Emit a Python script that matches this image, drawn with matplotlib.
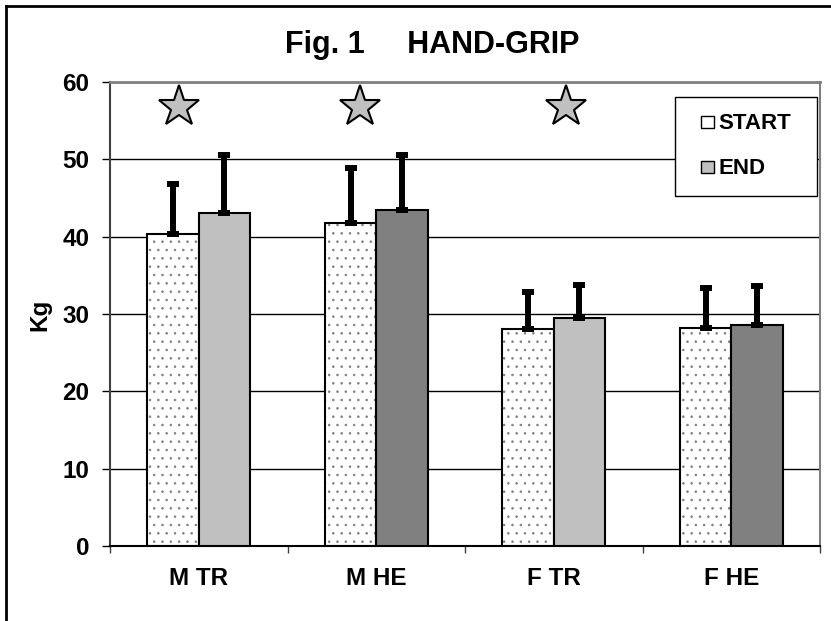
import matplotlib
matplotlib.use("Agg")
import matplotlib.pyplot as plt
from matplotlib.patches import Patch, Rectangle
from matplotlib.lines import Line2D
import numpy as np

# Hand-grip strength (Kg), mean and SD at start / end
groups = ['M TR', 'M HE', 'F TR', 'F HE']
start_mean = [40.4, 41.8, 28.1, 28.2]
start_sd = [6.4, 7.1, 4.8, 5.2]
end_mean = [43.0, 43.5, 29.5, 28.6]
end_sd = [7.6, 7.1, 4.3, 5.0]
end_colors = ['#c0c0c0', '#808080', '#c0c0c0', '#808080']

# significance stars (group index, offset from group centre)
star_groups = [0, 1, 2]
star_offsets = [-0.11, -0.09, 0.07]
star_level = 56.8

plt.rcParams['font.family'] = ['Liberation Sans', 'DejaVu Sans']
plt.rcParams['hatch.color'] = '#808080'
plt.rcParams['hatch.linewidth'] = 0.6

fig = plt.figure(figsize=(8.31, 6.21), dpi=100)
ax = fig.add_axes([110 / 831, 1 - 546 / 621, 710 / 831, 464 / 621])

x = np.arange(len(groups))
w = 0.29

# START bars: dotted fill, then black outline on top
ax.bar(x - w / 2, start_mean, w, color='white', hatch='..', linewidth=0, zorder=2)
ax.bar(x - w / 2, start_mean, w, facecolor='none', edgecolor='black', linewidth=1.5, zorder=3)
ax.bar(x + w / 2, end_mean, w, color=end_colors, edgecolor='black', linewidth=1.5, zorder=3)

# upper error bars only
for xs, m, sd in [(x - w / 2, start_mean, start_sd), (x + w / 2, end_mean, end_sd)]:
    ax.errorbar(xs, m, yerr=[np.zeros(len(sd)), sd], fmt='none', ecolor='black',
                elinewidth=4.3, capsize=4, capthick=4.3, zorder=4)

# stars
sx = [x[g] + o for g, o in zip(star_groups, star_offsets)]
ax.plot(sx, [star_level] * len(sx), linestyle='none', marker='*', markersize=31,
        markerfacecolor='#c0c0c0', markeredgecolor='black', markeredgewidth=1.5, zorder=5)

ax.set_xlim(-0.5, 3.5)
ax.set_ylim(0, 60)
ax.set_yticks(range(0, 61, 10))
ax.tick_params(axis='y', direction='out', length=6, width=1, pad=9, labelsize=17.5)
for lab in ax.get_yticklabels():
    lab.set_fontweight('bold')

ax.set_xticks(np.arange(-0.5, 3.6, 1))
ax.set_xticklabels([])
ax.set_xticks(x, minor=True)
ax.set_xticklabels(groups, minor=True, fontsize=17.5, fontweight='bold')
ax.tick_params(axis='x', which='major', direction='out', length=5, width=1, color='#404040')
ax.tick_params(axis='x', which='minor', length=0, pad=15)

ax.set_axisbelow(True)
ax.yaxis.grid(True, color='black', linewidth=1.0)

ax.spines['top'].set_color('#808080')
ax.spines['right'].set_color('#808080')
ax.spines['top'].set_linewidth(2)
ax.spines['right'].set_linewidth(1.5)
ax.spines['left'].set_color('#404040')
ax.spines['left'].set_linewidth(1.5)
ax.spines['bottom'].set_color('black')
ax.spines['bottom'].set_linewidth(1.5)

# legend box drawn by hand, legend itself without frame
ax.add_patch(Rectangle((0.796, 0.754), 0.2, 0.214, transform=ax.transAxes,
                       facecolor='white', edgecolor='black', linewidth=1, zorder=6))
handles = [Patch(facecolor='white', edgecolor='black', linewidth=1),
           Patch(facecolor='#c0c0c0', edgecolor='black', linewidth=1)]
leg = ax.legend(handles, ['START', 'END'], loc='center', bbox_to_anchor=(0.896, 0.861),
                frameon=False, handlelength=0.55, handleheight=0.45, handletextpad=0.2,
                labelspacing=1.08, borderpad=0, prop={'weight': 'bold', 'size': 16})
leg.set_zorder(7)

fig.text(432 / 831, 1 - 53.3 / 621, 'Fig. 1     HAND-GRIP', ha='center', va='baseline',
         fontsize=22, fontweight='bold')
fig.text(40 / 831, 1 - 315 / 621, 'Kg', rotation=90, ha='center', va='center',
         fontsize=17.5, fontweight='bold')

# outer frame of the figure (cut at right and bottom)
fig.add_artist(Line2D([6 / 831, 6 / 831], [0, 1 - 6 / 621], color='black', linewidth=2))
fig.add_artist(Line2D([6 / 831, 1], [1 - 6 / 621, 1 - 6 / 621], color='black', linewidth=2))

fig.savefig('out.png', dpi=100)
